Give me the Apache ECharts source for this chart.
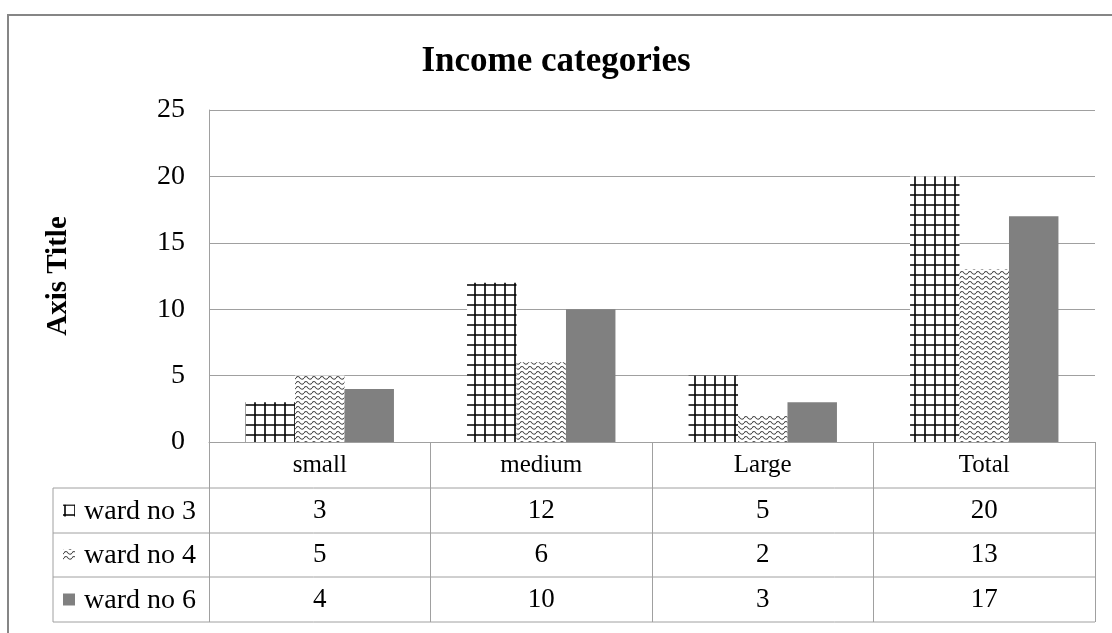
<!DOCTYPE html>
<html>
<head>
<meta charset="utf-8">
<script src="https://cdn.jsdelivr.net/npm/echarts@6/dist/echarts.min.js"></script>
<style>
  html, body { margin: 0; padding: 0; background: #fff; }
  #chart { width: 1112px; height: 633px; }
</style>
</head>
<body>
<div id="chart"></div>
<script>
const categories = ['small', 'medium', 'Large', 'Total']
const seriesNames = ['ward no 3', 'ward no 4', 'ward no 6']
const ward3 = [3, 12, 5, 20]
const ward4 = [5, 6, 2, 13]
const ward6 = [4, 10, 3, 17]
const yTicks = [0, 5, 10, 15, 20, 25]

const font = 'Liberation Serif'
const lineGray = '#a0a0a0'

// table layout
const plotLeft = 209
const plotRight = 1095
const tableLeft = 53
const rowLines = [442, 488, 533, 577, 622]

// hatch patterns like the office chart fills
const gridTile = () => {
    const c = document.createElement('canvas')
    c.width = 10
    c.height = 10
    const ctx = c.getContext('2d')
    ctx.fillStyle = '#fff'
    ctx.fillRect(0, 0, 10, 10)
    ctx.strokeStyle = '#000'
    ctx.lineWidth = 1.6
    ctx.beginPath()
    ctx.moveTo(0, 5)
    ctx.lineTo(10, 5)
    ctx.moveTo(5, 0)
    ctx.lineTo(5, 10)
    ctx.stroke()
    return c
}

const waveTile = () => {
    const c = document.createElement('canvas')
    c.width = 8
    c.height = 5
    const ctx = c.getContext('2d')
    ctx.fillStyle = '#fff'
    ctx.fillRect(0, 0, 8, 5)
    ctx.strokeStyle = '#444'
    ctx.lineWidth = 1.1
    ctx.beginPath()
    ctx.moveTo(0, 3)
    ctx.quadraticCurveTo(2, 0, 4, 3)
    ctx.quadraticCurveTo(6, 5.5, 8, 3)
    ctx.stroke()
    return c
}

const fills = [
    { image: gridTile(), repeat: 'repeat' },
    { image: waveTile(), repeat: 'repeat' },
    '#808080',
]
const rows = [ward3, ward4, ward6]

const myChart = echarts.init(document.getElementById('chart'))

const labelAxis = (margin, fmt, show, size) => ({
    type: 'category',
    data: categories,
    position: 'bottom',
    gridIndex: 0,
    axisLine: { show: show, lineStyle: { color: lineGray } },
    axisTick: {
        show: show,
        interval: 0,
        length: rowLines[4] - rowLines[0],
        lineStyle: { color: lineGray },
    },
    axisLabel: {
        interval: 0,
        margin: margin,
        verticalAlign: 'middle',
        color: '#000',
        fontFamily: font,
        fontSize: size,
        formatter: fmt,
    },
})

const rowMid = (i) => (rowLines[i] + rowLines[i + 1]) / 2 - rowLines[0]

const graphics = [
    {
        type: 'rect',
        shape: { x: 8, y: 15, width: 1200, height: 700 },
        style: { fill: 'none', stroke: '#868686', lineWidth: 2 },
        silent: true,
    },
]
rowLines.slice(1).forEach((y) => {
    graphics.push({
        type: 'line',
        shape: { x1: tableLeft, y1: y, x2: plotRight, y2: y },
        style: { stroke: lineGray, lineWidth: 1 },
    })
})
graphics.push({
    type: 'line',
    shape: { x1: tableLeft, y1: rowLines[1], x2: tableLeft, y2: rowLines[4] },
    style: { stroke: lineGray, lineWidth: 1 },
})
seriesNames.forEach((name, i) => {
    const cy = rowLines[0] + rowMid(i + 1)
    graphics.push({
        type: 'rect',
        shape: { x: 63, y: cy - 6, width: 12, height: 12 },
        style: { fill: fills[i] },
    })
    graphics.push({
        type: 'text',
        x: 84,
        y: cy + 1,
        style: {
            text: name,
            fill: '#000',
            font: '28px ' + font,
            verticalAlign: 'middle',
        },
    })
})

myChart.setOption({
    title: {
        text: 'Income categories',
        left: 'center',
        top: 39,
        textStyle: { fontFamily: font, fontSize: 35, fontWeight: 'bold', color: '#000' },
    },
    grid: {
        left: plotLeft,
        right: 1112 - plotRight,
        top: 110,
        bottom: 633 - rowLines[0],
    },
    xAxis: [
        labelAxis(rowMid(0), null, true, 25),
        labelAxis(rowMid(1), (v, i) => String(ward3[i]), false, 27),
        labelAxis(rowMid(2), (v, i) => String(ward4[i]), false, 27),
        labelAxis(rowMid(3), (v, i) => String(ward6[i]), false, 27),
    ],
    yAxis: {
        type: 'value',
        min: yTicks[0],
        max: yTicks[yTicks.length - 1],
        interval: 5,
        name: 'Axis Title',
        nameLocation: 'middle',
        nameGap: 136,
        nameTextStyle: { fontFamily: font, fontSize: 29, fontWeight: 'bold', color: '#000' },
        axisLine: { show: true, lineStyle: { color: lineGray } },
        axisTick: { show: false },
        axisLabel: { margin: 24, color: '#000', fontFamily: font, fontSize: 28 },
        splitLine: { lineStyle: { color: lineGray } },
    },
    series: rows.map((d, i) => ({
        name: seriesNames[i],
        type: 'bar',
        data: d,
        barGap: '0%',
        barCategoryGap: '33%',
        itemStyle: { color: fills[i] },
        silent: true,
    })),
    graphic: graphics,
})
</script>
</body>
</html>
